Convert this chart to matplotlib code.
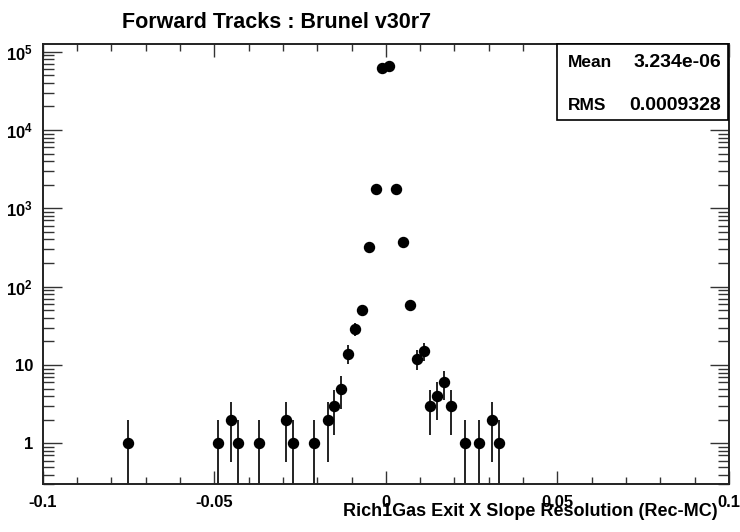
import matplotlib
matplotlib.use("Agg")
import matplotlib.pyplot as plt
from matplotlib.patches import Rectangle
from matplotlib.ticker import FixedLocator, LogLocator, MultipleLocator, NullFormatter
import numpy as np

# bin centres and entries
bin_centres = [-0.075, -0.049, -0.045, -0.043, -0.037, -0.029, -0.027, -0.021,
               -0.017, -0.015, -0.013, -0.011, -0.009, -0.007, -0.005, -0.003,
               -0.001, 0.001, 0.003, 0.005, 0.007, 0.009, 0.011, 0.013,
               0.015, 0.017, 0.019, 0.023, 0.027, 0.031, 0.033]
entries = [1, 1, 2, 1, 1, 2, 1, 1,
           2, 3, 5, 14, 29, 51, 324, 1770,
           61500, 66400, 1770, 372, 58, 12, 15, 3,
           4, 6, 3, 1, 1, 2, 1]

title = "Forward Tracks : Brunel v30r7"
x_title = "Rich1Gas Exit X Slope Resolution (Rec-MC)"
stat_names = ["Mean", "RMS"]
stat_values = ["3.234e-06", "0.0009328"]
x_ticks = [-0.1, -0.05, 0, 0.05, 0.1]
x_tick_labels = ["-0.1", "-0.05", "0", "0.05", "0.1"]
y_ticks = [1, 10, 100, 1000, 10000, 100000]
y_tick_labels = ["1", "10", r"$10^{2}$", r"$10^{3}$", r"$10^{4}$", r"$10^{5}$"]

W, H = 740, 532


def make_plot():
    plt.rcParams['font.family'] = ['Liberation Sans', 'DejaVu Sans']
    plt.rcParams['font.weight'] = 'bold'
    plt.rcParams['mathtext.fontset'] = 'custom'
    plt.rcParams['mathtext.rm'] = 'Liberation Sans:bold'
    plt.rcParams['mathtext.it'] = 'Liberation Sans:bold'
    plt.rcParams['mathtext.bf'] = 'Liberation Sans:bold'

    fig = plt.figure(figsize=(W / 100, H / 100), dpi=100)
    left, right, top, bottom = 42.7, 729, 44, 484.3
    ax = fig.add_axes([left / W, 1 - bottom / H, (right - left) / W, (bottom - top) / H])

    x = np.array(bin_centres)
    n = np.array(entries, dtype=float)
    err = np.sqrt(n)
    lo = n - np.maximum(n - err, 1e-3)
    ax.errorbar(x, n, yerr=[lo, err], fmt='o', color='black', ms=7.2,
                ecolor='#222222', elinewidth=1.4, capsize=0)

    ax.set_yscale('log')
    ax.set_xlim(-0.1, 0.1)
    ax.set_ylim(0.3, 1.25e5)

    ax.xaxis.set_major_locator(FixedLocator(x_ticks))
    ax.set_xticklabels(x_tick_labels)
    ax.xaxis.set_minor_locator(MultipleLocator(0.01))
    ax.yaxis.set_major_locator(FixedLocator(y_ticks))
    ax.set_yticklabels(y_tick_labels)
    ax.yaxis.set_minor_locator(LogLocator(base=10, subs=np.arange(2, 10)))
    ax.yaxis.set_minor_formatter(NullFormatter())

    ax.tick_params(which='both', direction='in', top=True, right=True,
                   labelsize=12, width=1.0, color='#333333')
    ax.tick_params(axis='x', which='major', length=9.5, pad=8)
    ax.tick_params(axis='x', which='minor', length=5)
    ax.tick_params(axis='y', which='major', length=14, pad=7)
    ax.tick_params(axis='y', which='minor', length=8)
    for lab in ax.get_xticklabels() + ax.get_yticklabels():
        lab.set_fontweight('bold')
    for sp in ax.spines.values():
        sp.set_linewidth(1.4)
        sp.set_color('#222222')

    # title and axis title (the axis title sits over the tick labels, as in ROOT)
    fig.text(122 / W, 1 - 22 / H, title, fontsize=15.5, fontweight='bold',
             ha='left', va='center')
    fig.text(718 / W, 1 - 511 / H, x_title, fontsize=13, fontweight='bold',
             ha='right', va='center')

    # statistics box
    bx0, bx1, by0, by1 = 557, 728, 44, 120
    fig.add_artist(Rectangle((bx0 / W, 1 - by1 / H), (bx1 - bx0) / W, (by1 - by0) / H,
                             transform=fig.transFigure, facecolor='white',
                             edgecolor='black', linewidth=1.2, zorder=5))
    for i, (name, val) in enumerate(zip(stat_names, stat_values)):
        yy = 1 - (62.5 + i * 43) / H
        fig.text(568 / W, yy, name, fontsize=12.5, fontweight='bold',
                 ha='left', va='center', zorder=6)
        fig.text(721 / W, yy, val, fontsize=14, fontweight='bold',
                 ha='right', va='center', zorder=6)

    plt.savefig("out.png", dpi=100)


if __name__ == "__main__":
    make_plot()
